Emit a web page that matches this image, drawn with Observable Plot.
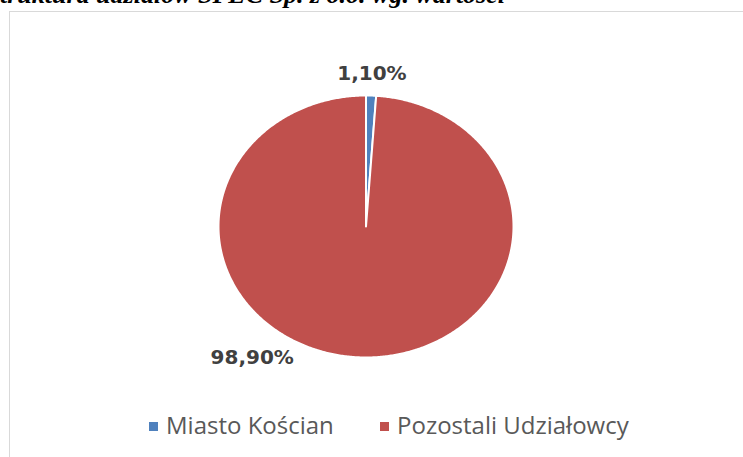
<!DOCTYPE html>
<html>
<head>
<meta charset="utf-8">
<script src="https://cdn.jsdelivr.net/npm/d3@7"></script>
<script src="https://cdn.jsdelivr.net/npm/@observablehq/plot@0.6"></script>
<style>
  html, body { margin: 0; padding: 0; background: #fff; }
  #wrap { position: relative; width: 743px; height: 457px; overflow: hidden; background: #fff; }
  #title { position: absolute; right: 238px; top: -18px; white-space: nowrap;
           font: italic bold 26px "Liberation Serif", "DejaVu Serif", serif; color: #000; line-height: 26px; }
  #frame { position: absolute; left: 9px; top: 11px; width: 760px; height: 470px;
           border: 1.5px solid #d9d9d9; box-sizing: border-box; }
  #chart { position: absolute; left: 0; top: 0; }
  #legend { position: absolute; left: 0; top: 410px; width: 743px; height: 30px;
            font: 24px "Open Sans", sans-serif; color: #595959; }
  .li { position: absolute; top: 0; white-space: nowrap; line-height: 30px; }
  .sw { position: absolute; width: 9px; height: 9px; top: 12px; }
</style>
</head>
<body>
<div id="wrap">
  <div id="title">Struktura udziałów SPEC Sp. z o.o. wg. wartości</div>
  <div id="frame"></div>
  <div id="chart"></div>
  <div id="legend"></div>
</div>
<script>
const categories = ["Miasto Kościan", "Pozostali Udziałowcy"];
const values = [1.10, 98.90];
const labels = ["1,10%", "98,90%"];
const colors = ["#4F81BD", "#C0504D"];

const total = d3.sum(values);
const slices = [];
const labelData = [];
let acc = 0;
categories.forEach((c, i) => {
  const a0 = acc / total * 2 * Math.PI;
  acc += values[i];
  const a1 = acc / total * 2 * Math.PI;
  const n = Math.max(4, Math.ceil((a1 - a0) / (Math.PI / 360)));
  slices.push({category: c, x: 0, y: 0});
  for (let k = 0; k <= n; k++) {
    const a = a0 + (a1 - a0) * k / n;
    slices.push({category: c, x: Math.sin(a), y: Math.cos(a)});
  }
  slices.push({category: c, x: 0, y: 0});
  const am = (a0 + a1) / 2;
  labelData.push({category: c, label: labels[i], am});
});

const outside = labelData.filter(d => d.category === categories[0]).map(d => ({...d, x: 1.17 * Math.sin(d.am), y: 1.17 * Math.cos(d.am)}));
const bottom = labelData.filter(d => d.category === categories[1]).map(d => ({...d, x: Math.sin(d.am), y: Math.cos(d.am)}));

const chart = Plot.plot({
  width: 743,
  height: 457,
  margin: 0,
  x: {domain: [-1, 1], range: [218, 513], axis: null},
  y: {domain: [-1, 1], range: [357, 95], axis: null},
  color: {domain: categories, range: colors},
  style: {background: "transparent", overflow: "visible"},
  marks: [
    Plot.line(slices, {x: "x", y: "y", z: "category", fill: "category", stroke: "white", strokeWidth: 2, curve: "linear"}),
    Plot.text(outside, {x: "x", y: "y", text: "label", fill: "#404040", fontSize: 20, fontWeight: "bold", fontFamily: "DejaVu Sans", textAnchor: "middle"}),
    Plot.text(bottom, {x: "x", y: "y", text: "label", fill: "#404040", fontSize: 20, fontWeight: "bold", fontFamily: "DejaVu Sans", textAnchor: "end", dx: -67, dy: 0})
  ]
});
document.getElementById("chart").appendChild(chart);

const legend = document.getElementById("legend");
const legendX = [149, 380];
categories.forEach((c, i) => {
  const sw = document.createElement("div");
  sw.className = "sw";
  sw.style.left = legendX[i] + "px";
  sw.style.background = colors[i];
  legend.appendChild(sw);
  const t = document.createElement("div");
  t.className = "li";
  t.style.left = (legendX[i] + 17) + "px";
  t.textContent = c;
  legend.appendChild(t);
});
</script>
</body>
</html>
